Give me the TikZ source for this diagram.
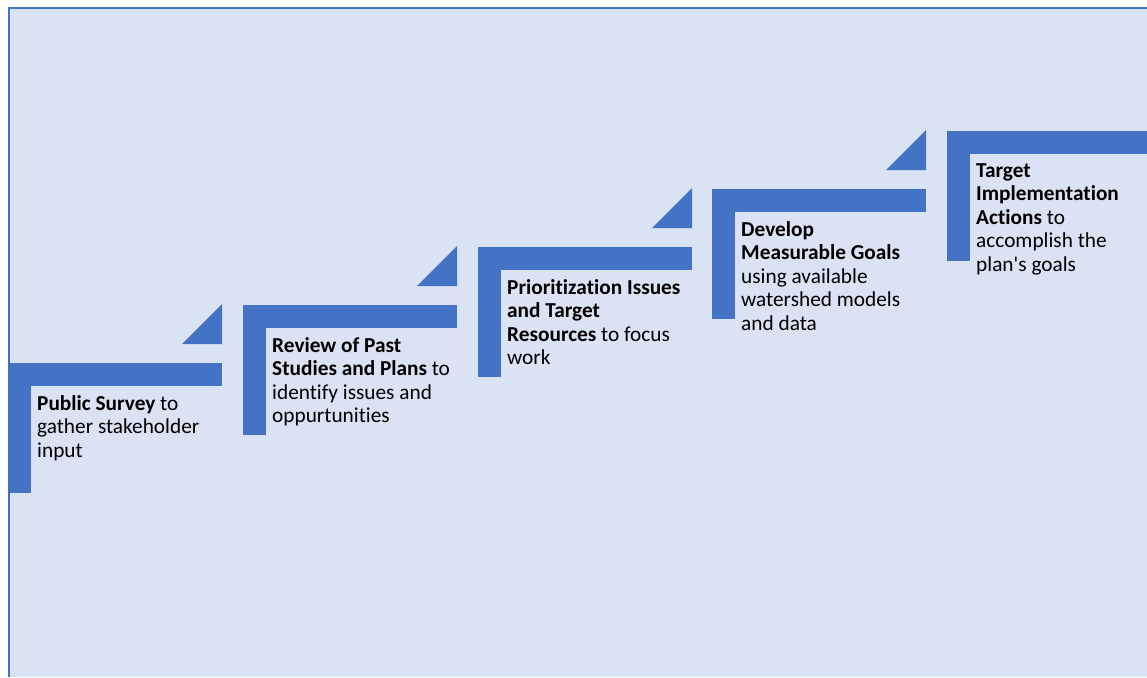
\documentclass[tikz,border=0pt]{standalone}
\usepackage{fontspec}
\setmainfont{Carlito}[Ligatures={NoCommon}]
\usepackage{xcolor}
\usepackage{tikz}
\definecolor{stepBlue}{HTML}{4472C4}
\definecolor{stepBack}{HTML}{DAE3F3}
\tikzset{
  step bar/.style={fill=stepBlue, draw=none},
  step arrow/.style={fill=stepBlue, draw=none},
  step text/.style={anchor=north west, align=left, inner sep=0pt,
    text=black, font=\fontsize{21.3}{23.5}\selectfont},
  frame line/.style={draw=stepBlue, line width=1.6pt}
}
\begin{document}
\begin{tikzpicture}[x=1pt, y=-1pt]
  \useasboundingbox (0,0) rectangle (1147,677);
  \fill[stepBack] (8,7) rectangle (1147,677);
  \draw[frame line] (8.8,677) -- (8.8,7.8) -- (1147,7.8);
  % stair steps
  \foreach \sx/\sy/\len in {8/363/214, 243/305/214, 478/247/214, 712/189/214, 947/131/200} {
    \fill[step bar] (\sx,\sy) rectangle ++(\len,23);
    \fill[step bar] (\sx,\sy) rectangle ++(23,130);
  }
  \foreach \sx/\sy in {8/363, 243/305, 478/247, 712/189} {
    \fill[step arrow] (\sx+214,\sy-19) -- ++(0,-40) -- ++(-40,40) -- cycle;
  }
  \node[step text] (survey) at (37,395)
    {\textbf{Public Survey} to\\gather stakeholder\\input};
  \node[step text] (review) at (272,337)
    {\textbf{Review of Past}\\\textbf{Studies and Plans} to\\identify issues and\\oppurtunities};
  \node[step text] (prioritize) at (507,279)
    {\textbf{Prioritization Issues}\\\textbf{and Target}\\\textbf{Resources} to focus\\work};
  \node[step text] (goals) at (741,221)
    {\textbf{Develop}\\\textbf{Measurable Goals}\\using available\\watershed models\\and data};
  \node[step text] (actions) at (976,163)
    {\textbf{Target}\\\textbf{Implementation}\\\textbf{Actions} to\\accomplish the\\plan\textquotesingle s goals};
\end{tikzpicture}
\end{document}
